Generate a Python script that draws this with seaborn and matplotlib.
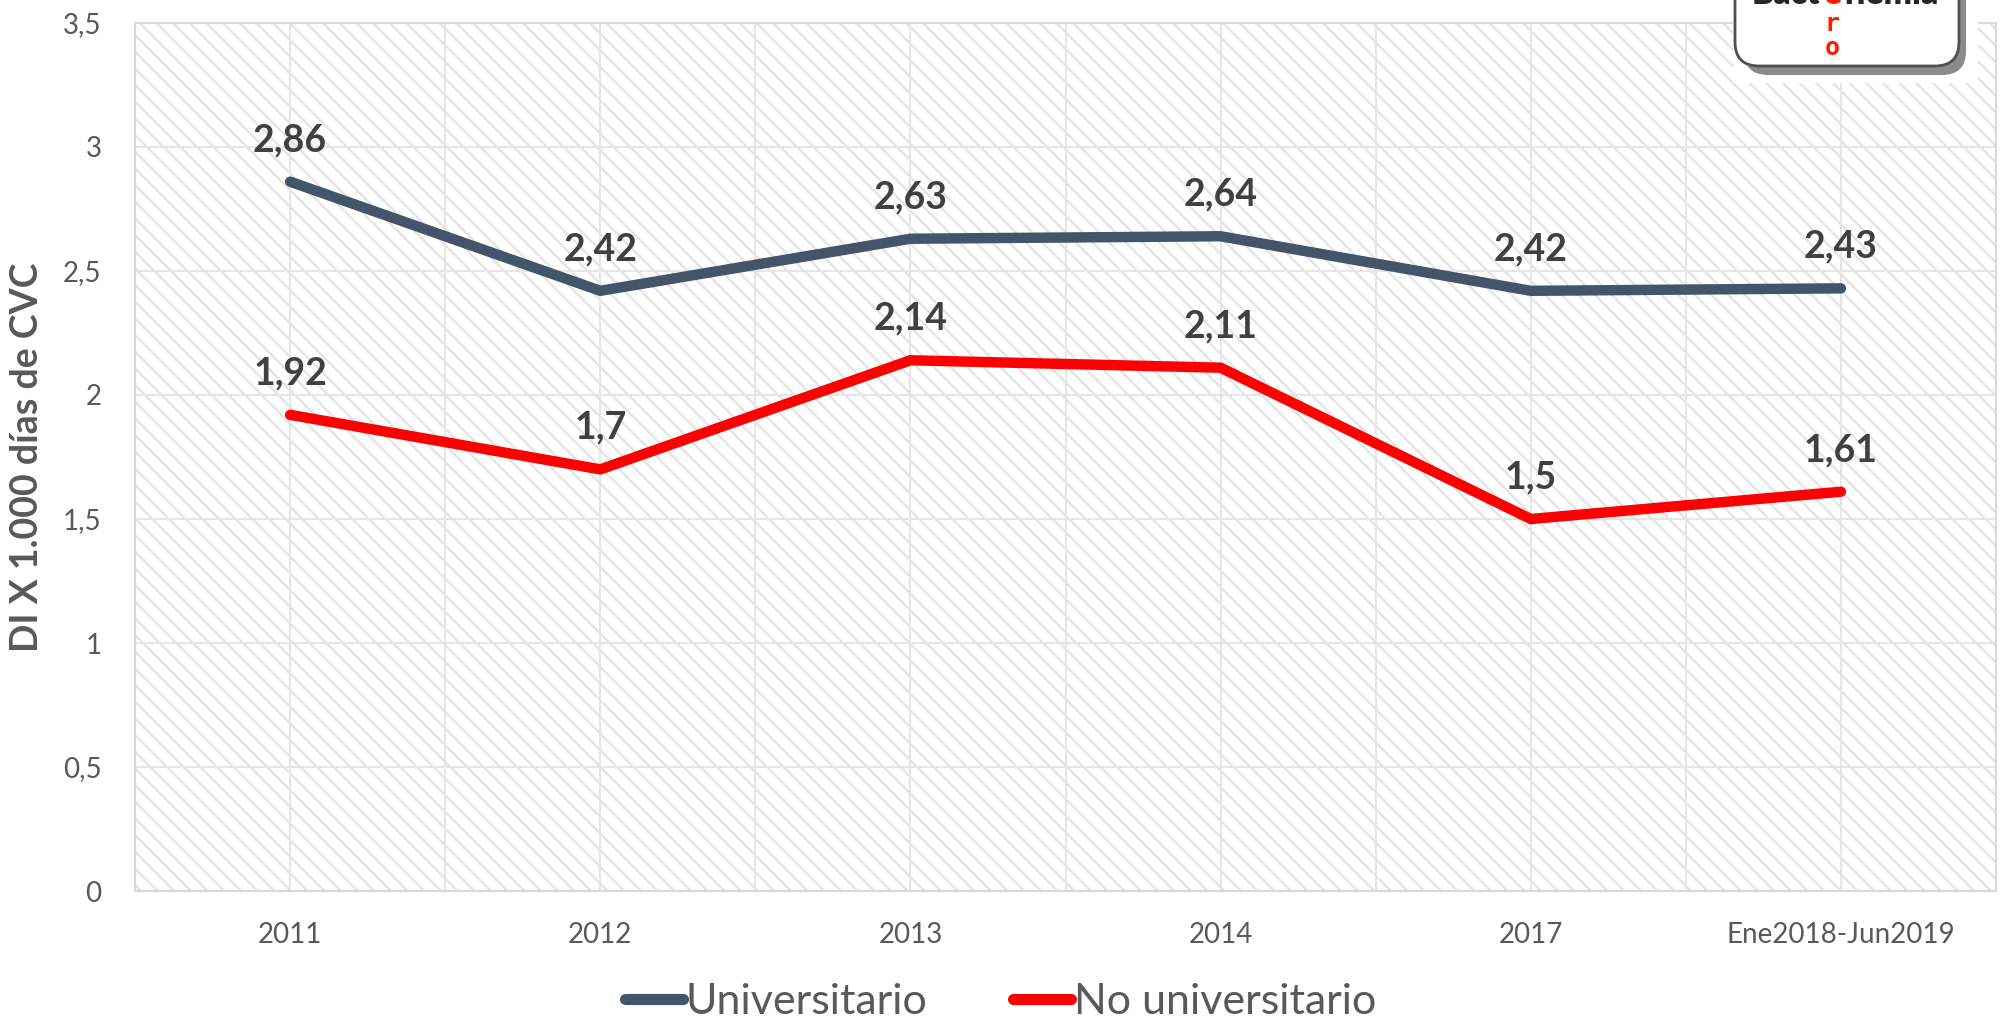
import matplotlib
matplotlib.use("Agg")
import matplotlib.pyplot as plt
import seaborn as sns
import pandas as pd
from matplotlib.ticker import FuncFormatter, MultipleLocator
from matplotlib.patches import Rectangle, FancyBboxPatch
from matplotlib.lines import Line2D

periodos = ["2011", "2012", "2013", "2014", "2017", "Ene2018-Jun2019"]
universitario = [2.86, 2.42, 2.63, 2.64, 2.42, 2.43]
no_universitario = [1.92, 1.70, 2.14, 2.11, 1.50, 1.61]
series = ["Universitario", "No universitario"]
colores = {"Universitario": "#44546A", "No universitario": "#FF0000"}

df = pd.DataFrame({
    "periodo": periodos * 2,
    "valor": universitario + no_universitario,
    "serie": [series[0]] * len(periodos) + [series[1]] * len(periodos),
})

sns.set_theme(style="white")
plt.rcParams["font.family"] = ["Lato", "DejaVu Sans"]
plt.rcParams["hatch.linewidth"] = 1.6
plt.rcParams["hatch.color"] = "#e3e3e3"


def coma(v, pos=None):
    s = f"{v:g}"
    return s.replace(".", ",")


fig = plt.figure(figsize=(20.01, 10.25), dpi=100)
ax = fig.add_axes([0.0675, 0.1307, 0.93, 0.8469])

# fondo rayado
ax.add_patch(Rectangle((0, 0), 1, 1, transform=ax.transAxes, facecolor="white",
                       edgecolor="#e3e3e3", hatch="\\\\", lw=0, zorder=0))

sns.lineplot(data=df, x="periodo", y="valor", hue="serie", palette=colores,
             linewidth=7.5, sort=False, legend=False, ax=ax, zorder=3)
for l in ax.lines:
    l.set_solid_capstyle("round")
    l.set_solid_joinstyle("miter")

ax.set_xlim(-0.5, len(periodos) - 0.5)
ax.set_ylim(0, 3.5)
ax.yaxis.set_major_locator(MultipleLocator(0.5))
ax.yaxis.set_major_formatter(FuncFormatter(coma))
ax.xaxis.set_minor_locator(MultipleLocator(0.5))
ax.set_xticks(range(len(periodos)))
ax.set_xticklabels(periodos)
ax.grid(True, which="both", axis="x", color="#e6e6e6", lw=1.5, zorder=1)
ax.grid(True, which="major", axis="y", color="#e6e6e6", lw=1.5, zorder=1)
ax.set_axisbelow(True)
ax.tick_params(axis="both", which="both", length=0, labelsize=20, colors="#595959")
ax.tick_params(axis="x", pad=22)
ax.tick_params(axis="y", pad=24)
ax.set_xlabel("")
ax.set_ylabel("DI X 1.000 días de CVC", fontsize=27, fontweight="bold",
              color="#595959", labelpad=14)
for sp in ax.spines.values():
    sp.set_color("#d9d9d9")
    sp.set_linewidth(1.5)

for vals in (universitario, no_universitario):
    for i, v in enumerate(vals):
        ax.annotate(coma(v), (i, v), xytext=(0, 30), textcoords="offset points",
                    ha="center", va="center", fontsize=27, fontweight="bold",
                    color="#404040", zorder=5)

handles = [Line2D([], [], color=colores[s], lw=8, solid_capstyle="round") for s in series]
fig.legend(handles, series, loc="center", bbox_to_anchor=(0.5, 0.022), ncol=2,
           frameon=False, fontsize=31, labelcolor="#595959", handlelength=1.35,
           handletextpad=0.05, columnspacing=2.0)

# logo (arriba a la derecha)
lg = fig.add_axes([0, 0, 1, 1], zorder=10)
lg.set_xlim(0, 2001)
lg.set_ylim(1025, 0)
lg.axis("off")
lg.patch.set_alpha(0)
lg.add_patch(Rectangle((1733, -5), 245, 88, facecolor="white", edgecolor="none"))
lg.add_patch(FancyBboxPatch((1744, -40), 222, 115, boxstyle="round,pad=0,rounding_size=24",
                            facecolor="#6e6e6e", edgecolor="none", alpha=0.8))
lg.add_patch(FancyBboxPatch((1735, -40), 224, 106, boxstyle="round,pad=0,rounding_size=24",
                            facecolor="white", edgecolor="#505050", lw=2))
lg.text(1820, 4, "Bact", ha="right", va="baseline", fontsize=24, fontweight="heavy", color="#262626")
lg.text(1832, 4, "e", ha="center", va="baseline", fontsize=24, fontweight="heavy", color="#ff1a00")
lg.text(1844, 4, "riemia", ha="left", va="baseline", fontsize=24, fontweight="heavy", color="#262626")
lg.text(1832, 24, "r", ha="center", va="center", fontsize=18, fontweight="bold",
        family="DejaVu Sans Mono", color="#ff1a00")
lg.text(1832, 48, "o", ha="center", va="center", fontsize=18, fontweight="bold",
        family="DejaVu Sans Mono", color="#ff1a00")

fig.savefig("out.png", dpi=100)
